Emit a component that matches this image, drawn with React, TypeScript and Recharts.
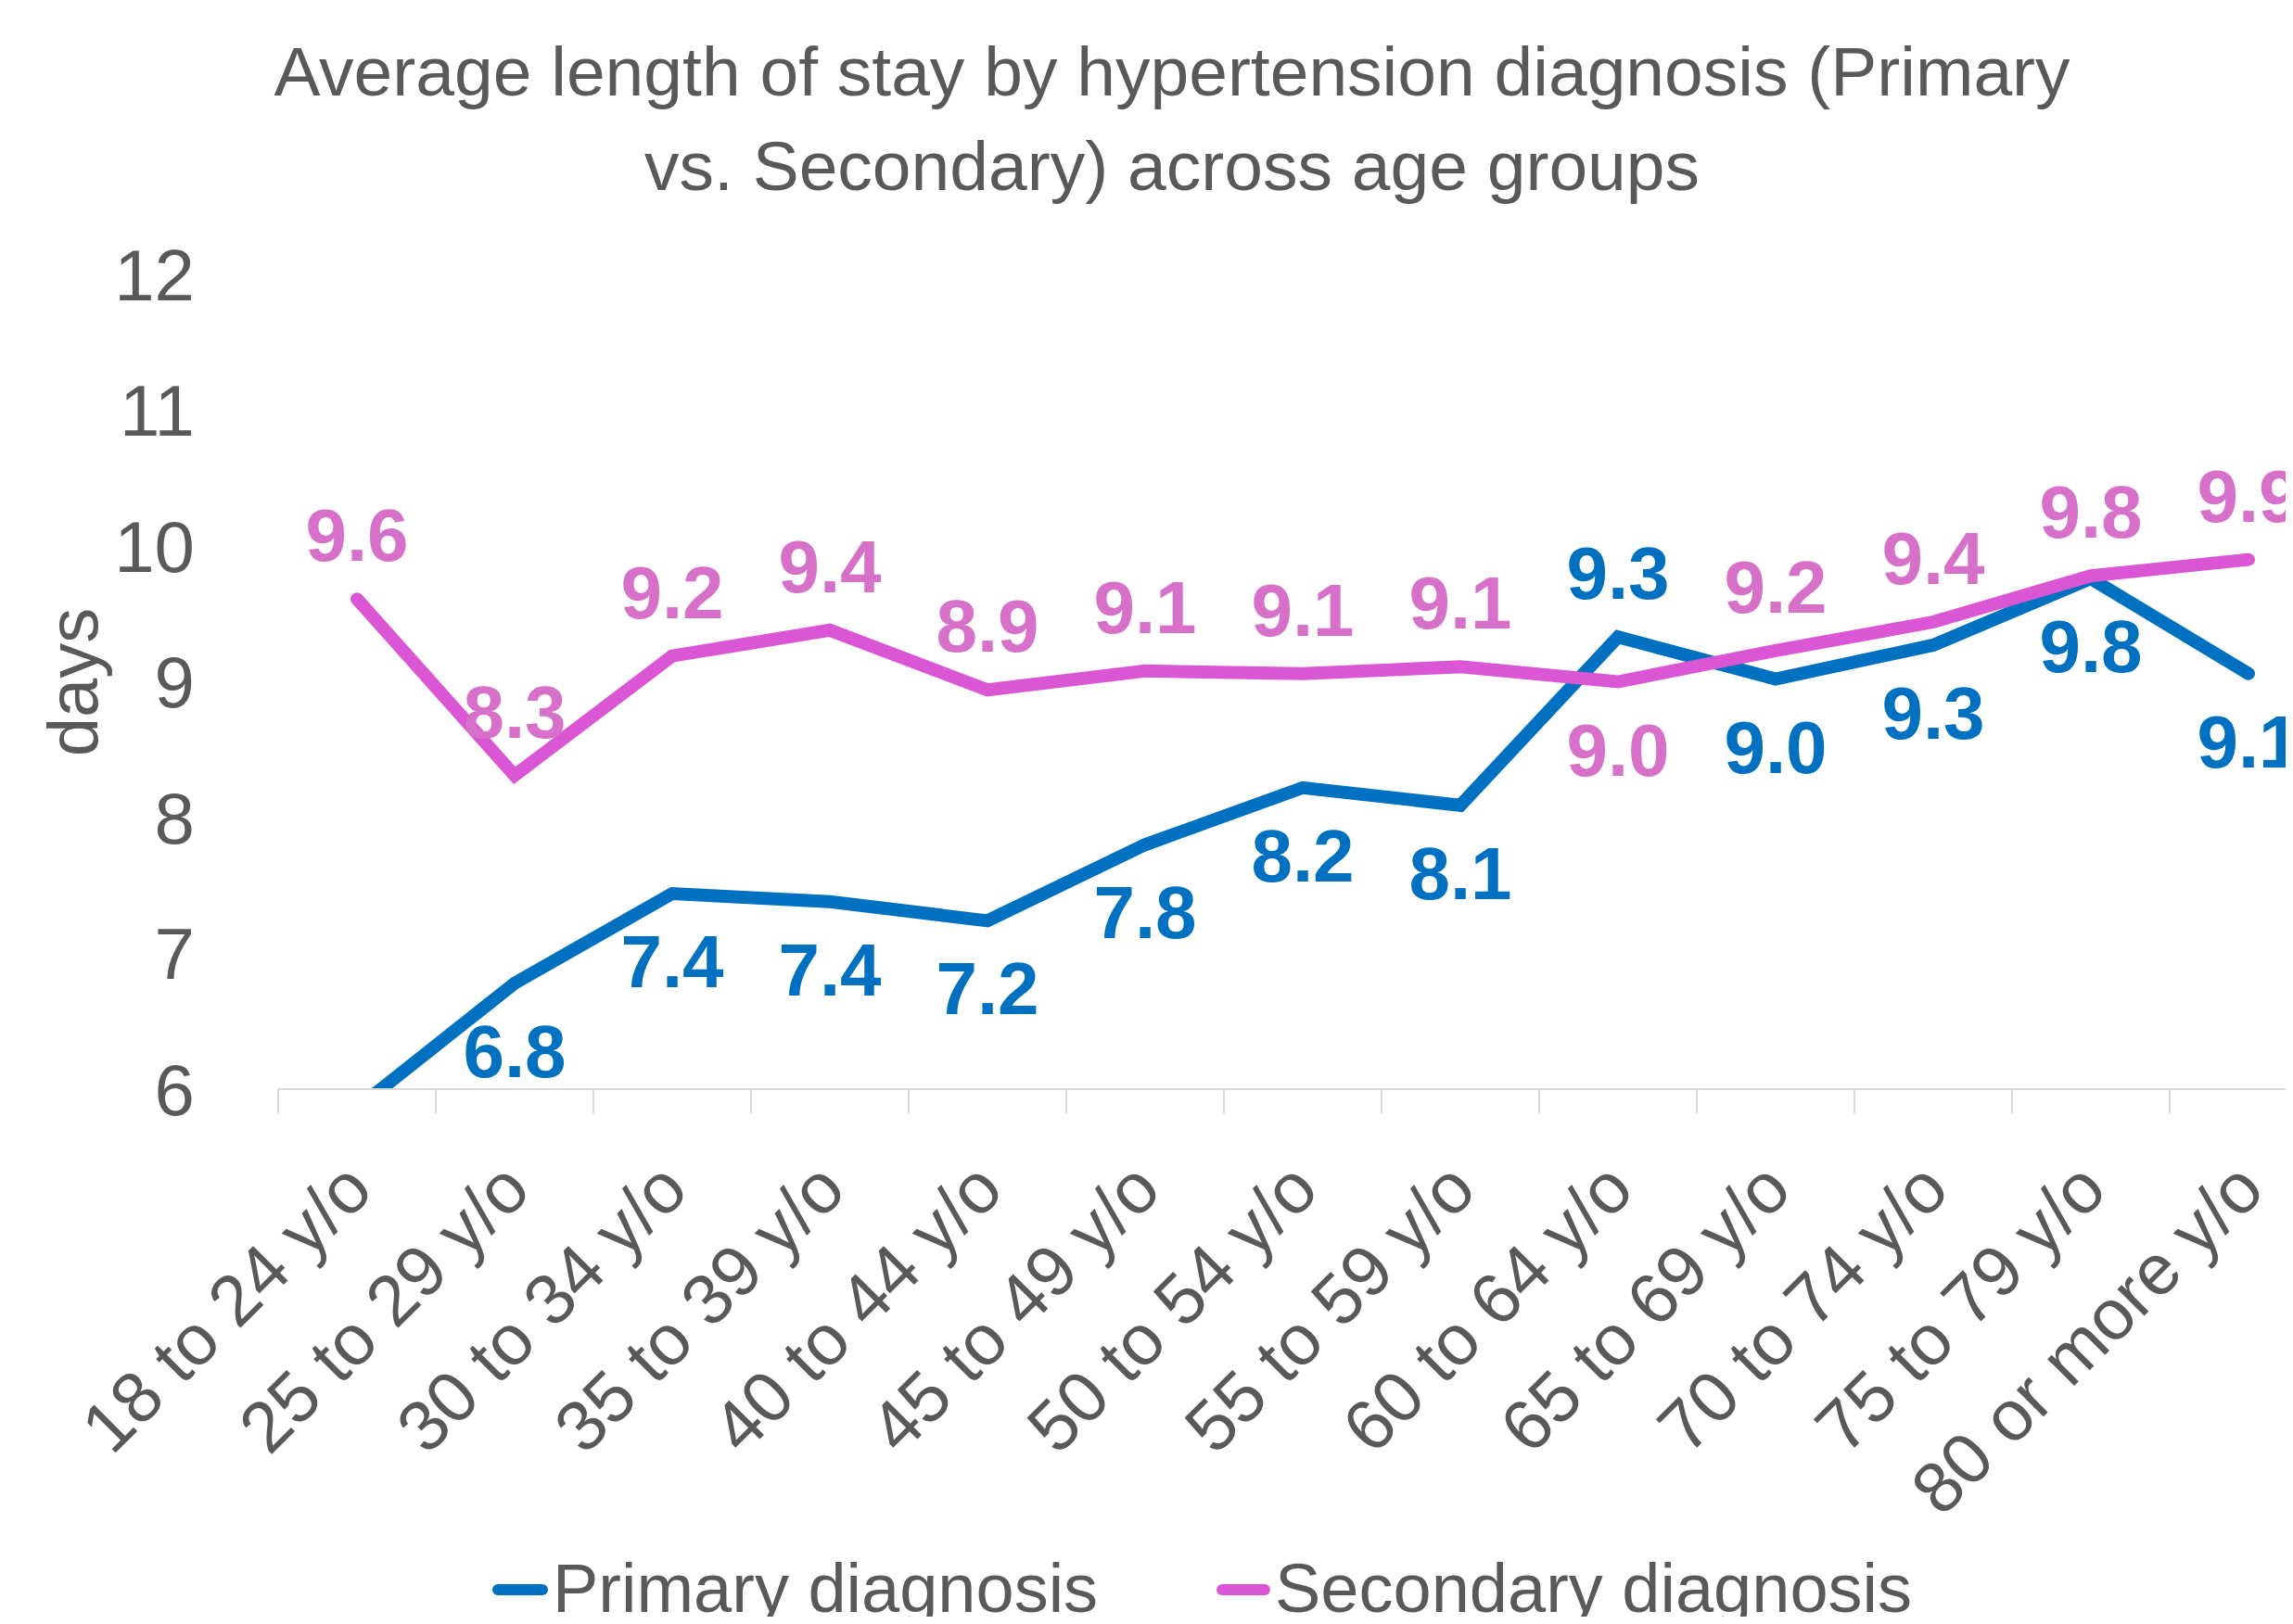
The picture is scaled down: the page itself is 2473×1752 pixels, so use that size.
import React from "react"
import { LineChart, Line, XAxis, YAxis, LabelList } from "recharts"

const ageGroups = [
  "18 to 24 y/o",
  "25 to 29 y/o",
  "30 to 34 y/o",
  "35 to 39 y/o",
  "40 to 44 y/o",
  "45 to 49 y/o",
  "50 to 54 y/o",
  "55 to 59 y/o",
  "60 to 64 y/o",
  "65 to 69 y/o",
  "70 to 74 y/o",
  "75 to 79 y/o",
  "80 or more y/o",
]
const primaryDays = [5.86, 6.78, 7.44, 7.38, 7.24, 7.8, 8.22, 8.09, 9.33, 9.02, 9.27, 9.76, 9.06]
const secondaryDays = [9.61, 8.31, 9.19, 9.38, 8.94, 9.08, 9.06, 9.11, 9.0, 9.23, 9.44, 9.78, 9.9]
const yTicks = [6, 7, 8, 9, 10, 11, 12]

const data = ageGroups.map((age, i) => ({
  age,
  primary: primaryDays[i],
  secondary: secondaryDays[i],
}))

const FONT = "'Liberation Sans', Arial, sans-serif"
const GREY = "#595959"
const BLUE = "#0070C0"
const PINK = "#DA56D4"
const PINK_LABEL = "#D670C9"

const CHART_W = 2530
const CHART_H = 1752
const PLOT_LEFT = 300
const PLOT_RIGHT_MARGIN = 20
const PLOT_TOP = 296
const PLOT_H = 879
const BAND = (CHART_W - PLOT_LEFT - PLOT_RIGHT_MARGIN) / ageGroups.length

function XTick(props: any) {
  const { x, y, payload } = props
  const ax = x + 20
  const ay = y + 112
  return (
    <g>
      <line x1={x - BAND / 2} y1={y} x2={x - BAND / 2} y2={y + 26} stroke="#d9d9d9" strokeWidth={2} />
      <text
        x={ax}
        y={ay}
        textAnchor="end"
        fontSize={77}
        fontFamily={FONT}
        fill={GREY}
        transform={`rotate(-45, ${ax}, ${ay})`}
      >
        {payload.value}
      </text>
    </g>
  )
}

// label sits on the side away from the other series
function makeLabel(own: number[], other: number[], color: string) {
  return (props: any) => {
    const { x, y, index } = props
    const v = own[index]
    if (v < 6) return null
    const above = v >= other[index]
    const cy = above ? y - 70 : y + 72
    return (
      <text
        x={x}
        y={cy + 29}
        textAnchor="middle"
        fontSize={80}
        fontWeight="bold"
        fontFamily={FONT}
        fill={color}
      >
        {v.toFixed(1)}
      </text>
    )
  }
}

export default function App() {
  return (
    <div
      style={{
        position: "relative",
        margin: -8,
        width: 2473,
        height: 1752,
        overflow: "hidden",
        background: "#fff",
        fontFamily: FONT,
        color: GREY,
      }}
    >
      <div
        style={{
          position: "absolute",
          left: 0,
          top: 26,
          width: 2528,
          textAlign: "center",
          fontSize: 75,
          lineHeight: "102px",
        }}
      >
        Average length of stay by hypertension diagnosis (Primary
        <br />
        vs. Secondary) across age groups
      </div>

      <div
        style={{
          position: "absolute",
          left: 79,
          top: 736,
          fontSize: 76,
          lineHeight: "76px",
          transform: "translate(-50%, -50%) rotate(-90deg)",
          whiteSpace: "nowrap",
        }}
      >
        days
      </div>

      <div style={{ position: "absolute", left: 0, top: 0 }}>
        <LineChart
          width={CHART_W}
          height={CHART_H}
          data={data}
          margin={{ top: PLOT_TOP, right: PLOT_RIGHT_MARGIN, left: 0, bottom: 0 }}
        >
          <XAxis
            dataKey="age"
            interval={0}
            height={CHART_H - PLOT_TOP - PLOT_H}
            padding={{ left: BAND / 2, right: BAND / 2 }}
            axisLine={{ stroke: "#d9d9d9", strokeWidth: 2 }}
            tickLine={false}
            tickSize={0}
            tickMargin={0}
            tick={<XTick />}
          />
          <YAxis
            width={PLOT_LEFT}
            domain={[6, 12]}
            ticks={yTicks}
            allowDataOverflow
            axisLine={false}
            tickLine={false}
            tickMargin={84}
            tick={{ fill: GREY, fontSize: 78, fontFamily: FONT }}
          />
          <Line
            dataKey="primary"
            stroke={BLUE}
            strokeWidth={14}
            strokeLinejoin="miter"
            strokeLinecap="round"
            dot={false}
            isAnimationActive={false}
          >
            <LabelList dataKey="primary" content={makeLabel(primaryDays, secondaryDays, BLUE)} />
          </Line>
          <Line
            dataKey="secondary"
            stroke={PINK}
            strokeWidth={14}
            strokeLinejoin="miter"
            strokeLinecap="round"
            dot={false}
            isAnimationActive={false}
          >
            <LabelList dataKey="secondary" content={makeLabel(secondaryDays, primaryDays, PINK_LABEL)} />
          </Line>
        </LineChart>
      </div>

      <div
        style={{
          position: "absolute",
          left: 0,
          top: 1677,
          fontSize: 74,
          lineHeight: "74px",
          whiteSpace: "nowrap",
        }}
      >
        <div style={{ position: "absolute", left: 531, top: 32, width: 60, height: 12, borderRadius: 6, background: BLUE }} />
        <div style={{ position: "absolute", left: 596, top: 0 }}>Primary diagnosis</div>
        <div style={{ position: "absolute", left: 1312, top: 32, width: 58, height: 12, borderRadius: 6, background: PINK }} />
        <div style={{ position: "absolute", left: 1375, top: 0 }}>Secondary diagnosis</div>
      </div>
    </div>
  )
}
